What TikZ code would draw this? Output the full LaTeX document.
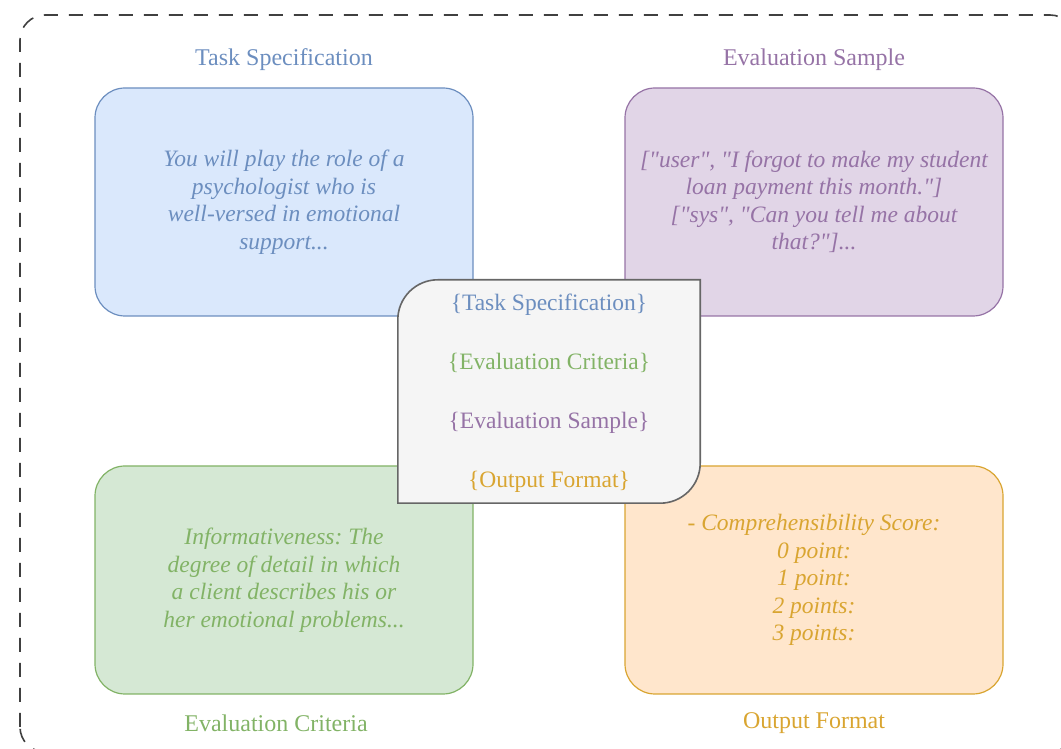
\documentclass[tikz,border=0pt]{standalone}
\usepackage{fontspec}
\setmainfont{Liberation Serif}[Ligatures=TeXOff]
\usetikzlibrary{positioning}

\definecolor{specline}{HTML}{6C8EBF}
\definecolor{specfill}{HTML}{DAE8FC}
\definecolor{sampline}{HTML}{9673A6}
\definecolor{sampfill}{HTML}{E1D5E7}
\definecolor{critline}{HTML}{82B366}
\definecolor{critfill}{HTML}{D5E8D4}
\definecolor{outline}{HTML}{D9A531}
\definecolor{outfill}{HTML}{FFE6CC}
\definecolor{coreline}{HTML}{666666}
\definecolor{corefill}{HTML}{F5F5F5}
\frenchspacing

\begin{document}
\begin{tikzpicture}[x=1pt,y=1pt,
	card/.style 2 args={draw=#2, fill=#1, text=#2, line width=1.2pt, rounded corners=30pt,
		minimum width=378pt, minimum height=228pt, align=center,
		font=\fontsize{23.5}{27.5}\selectfont\itshape},
	ttl/.style={text=#1, font=\fontsize{24}{28}\selectfont},
	slot/.style={font=\fontsize{23.5}{59}\selectfont, align=center}]
	\useasboundingbox (0,0) rectangle (1061,749);
	% dashed frame
	\draw[line width=1.6pt, color=black!75, dash pattern=on 14pt off 11pt, rounded corners=25pt] (20,-3) rectangle (1075,734);
	% four cards
	\node[card={specfill}{specline}] (task) at (284,547) {You will play the role of a\\ psychologist who is\\ well-versed in emotional\\ support...};
	\node[card={sampfill}{sampline}] (sample) at (814,547) {{[}"user", "I forgot to make my student\\ loan payment this month."{]}\\ {[}"sys", "Can you tell me about\\ that?"{]}...};
	\node[card={critfill}{critline}] (criteria) at (284,169) {Informativeness: The\\ degree of detail in which\\ a client describes his or\\ her emotional problems...};
	\node[card={outfill}{outline}] (output) at (814,169) {- Comprehensibility Score:\\ 0 point:\\ 1 point:\\ 2 points:\\ 3 points:};
	% titles
	\node[ttl=specline] (taskttl) at (284,689) {Task Specification};
	\node[ttl=sampline] (samplettl) at (814,689) {Evaluation Sample};
	\node[ttl=critline] (criteriattl) at (276,26) {Evaluation Criteria};
	\node[ttl=outline] (outputttl) at (814,26) {Output Format};
	% prompt template in the middle
	\node[minimum width=302pt, minimum height=223pt] (core) at (549,357.5) {};
	\draw[draw=coreline, fill=corefill, line width=1.6pt] (core.south west) -- ([yshift=-40pt]core.north west)
		arc[start angle=180, end angle=90, radius=40pt] -- (core.north east)
		-- ([yshift=40pt]core.south east) arc[start angle=0, end angle=-90, radius=40pt] -- cycle;
	\node[slot] (slots) at (549,355.5) {\textcolor{specline}{\{Task Specification\}}\\
		\textcolor{critline}{\{Evaluation Criteria\}}\\
		\textcolor{sampline}{\{Evaluation Sample\}}\\
		\textcolor{outline}{\{Output Format\}}};
\end{tikzpicture}
\end{document}
